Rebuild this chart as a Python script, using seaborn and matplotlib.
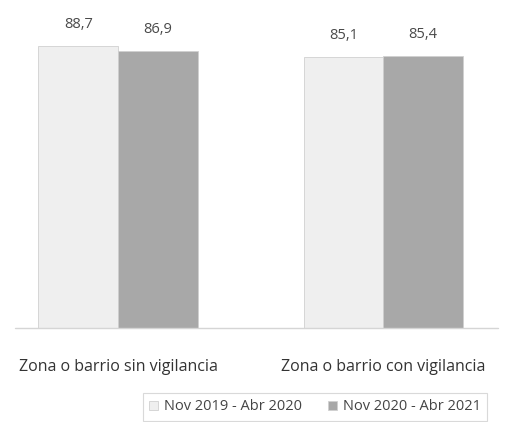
import pandas as pd
import matplotlib
matplotlib.use("Agg")
import matplotlib.pyplot as plt
import seaborn as sns

# data
zones = ["Zona o barrio sin vigilancia", "Zona o barrio con vigilancia"]
periods = ["Nov 2019 - Abr 2020", "Nov 2020 - Abr 2021"]
values_2019 = [88.7, 85.1]
values_2020 = [86.9, 85.4]
bar_colors = ["#efefef", "#a8a8a8"]

df = pd.DataFrame({
    "zona": zones * 2,
    "periodo": [periods[0]] * 2 + [periods[1]] * 2,
    "valor": values_2019 + values_2020,
})

sns.set_theme(style="white")
plt.rcParams["font.family"] = ["Open Sans", "DejaVu Sans"]

fig = plt.figure(figsize=(5.13, 4.22), dpi=100)
ax = fig.add_axes([0, 94 / 422, 1, 328 / 422])

sns.barplot(data=df, x="zona", y="valor", hue="periodo", order=zones,
            hue_order=periods, palette=bar_colors, width=0.6, saturation=1,
            edgecolor="#d0d0d0", linewidth=0.6, ax=ax, legend=True)

for cont in ax.containers:
    ax.bar_label(cont, labels=[f"{v:.1f}".replace(".", ",") for v in cont.datavalues],
                 padding=10, fontsize=10.5, color="#4a4a4a")

ax.set_xlim(-0.445, 1.49)
ax.set_ylim(0, 103)
ax.axhline(0, xmin=0.03, xmax=0.97, color="#d5d5d5", linewidth=1, clip_on=False)
ax.set_xlabel("")
ax.set_ylabel("")
ax.set_yticks([])
ax.set_xticks([0, 1])
ax.set_xticklabels(zones, fontsize=11.5, color="#333333")
ax.tick_params(axis="x", length=0, pad=22)
sns.despine(ax=ax, left=True, bottom=True)

leg = ax.legend(loc="center", bbox_to_anchor=(315 / 513, 15 / 422),
                bbox_transform=fig.transFigure, ncol=2, frameon=True,
                fontsize=10.5, handlelength=0.6, handleheight=0.6,
                columnspacing=1.8, handletextpad=0.4, borderpad=0.45)
leg.get_frame().set_edgecolor("#d0d0d0")
leg.get_frame().set_linewidth(0.8)
leg.get_frame().set_boxstyle("square", pad=0)
for t in leg.get_texts():
    t.set_color("#444444")

fig.savefig("out.png", dpi=100)
